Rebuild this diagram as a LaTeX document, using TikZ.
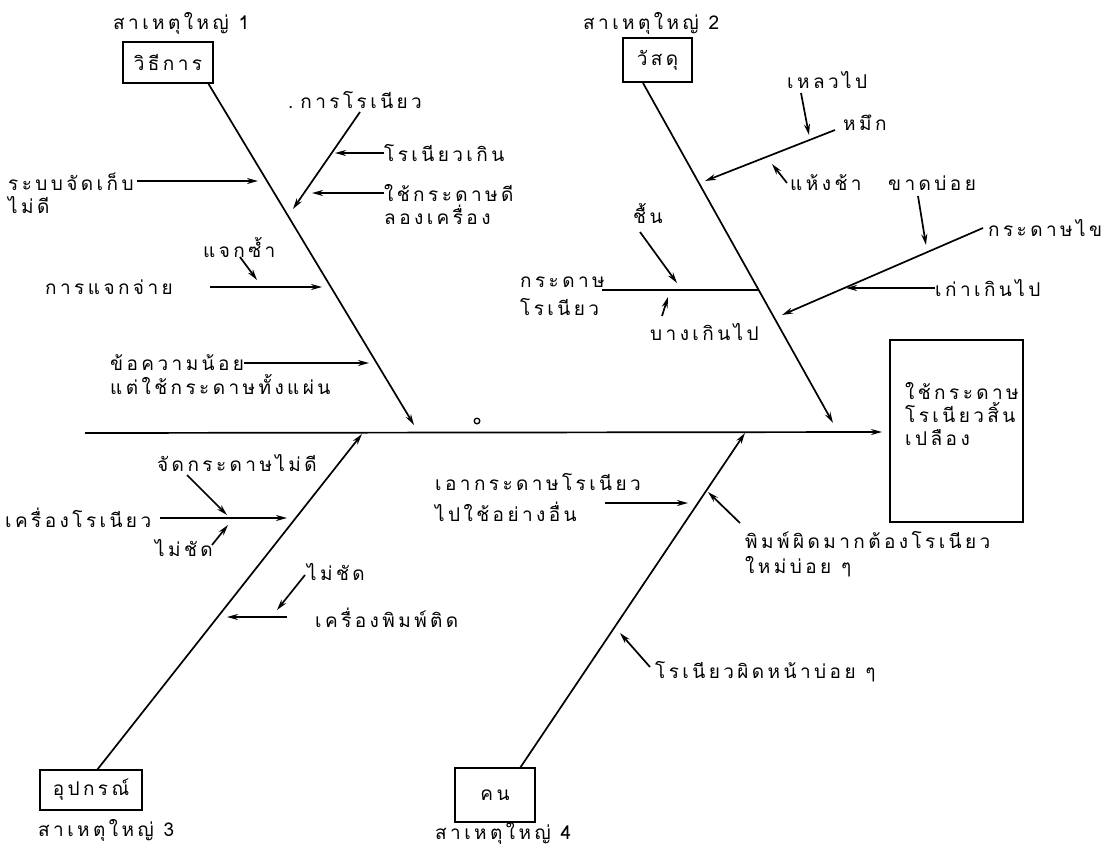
\documentclass[tikz,border=0pt]{standalone}
\usepackage{fontspec}
\newfontfamily\thai[Script=Thai,LetterSpace=18]{Loma}
\usetikzlibrary{arrows.meta}
\tikzset{
  lbl/.style={font=\thai\fontsize{19}{24}\selectfont, inner sep=0pt, anchor=west},
  bone/.style={line width=1.7pt},
  arr/.style={line width=1.7pt,-{Stealth[length=11pt,width=6pt]}},
  causebox/.style={draw,line width=2.2pt,inner sep=0pt,font=\thai\fontsize{19}{24}\selectfont},
}
\begin{document}
\begin{tikzpicture}[x=1pt,y=-1pt]
\useasboundingbox (0,0) rectangle (1104,854);
% boxes
\node[causebox,minimum width=90pt,minimum height=41pt] (box1) at (168,62.5) {วิธีการ};
\node[causebox,minimum width=69pt,minimum height=44pt] (box2) at (657.5,60) {วัสดุ};
\node[causebox,minimum width=102pt,minimum height=40pt] (box3) at (91,790) {อุปกรณ์};
\node[causebox,minimum width=80pt,minimum height=54pt] (box4) at (495,795) {คน};
\node[draw,line width=2.2pt,minimum width=133pt,minimum height=182pt,inner sep=0pt] (effect) at (956.5,431) {};
\node[lbl,anchor=north west,align=left] (efftxt) at (905,382) {ใช้กระดาษ\\[-1pt]โรเนียวสิ้น\\[-1pt]เปลือง};
% headings
\node[lbl] (h1) at (113,23) {สาเหตุใหญ่ 1};
\node[lbl] (h2) at (583,23) {สาเหตุใหญ่ 2};
\node[lbl] (h3) at (38,830) {สาเหตุใหญ่ 3};
\node[lbl] (h4) at (435,833) {สาเหตุใหญ่ 4};
% main spine
\coordinate (tail) at (85,433);
\coordinate (head) at (882,432);
\draw[arr] (tail) -- (head);
\draw[line width=1.3pt] (477,421) circle (2.8pt);
% spines
\coordinate (s1a) at (208,83);  \coordinate (s1b) at (414,425);
\coordinate (s2a) at (643,83);  \coordinate (s2b) at (833,423);
\coordinate (s3a) at (97,770);  \coordinate (s3b) at (362,434);
\coordinate (s4a) at (520,768); \coordinate (s4b) at (745,433);
\draw[arr] (s1a) -- (s1b);
\draw[arr] (s2a) -- (s2b);
\draw[arr] (s3a) -- (s3b);
\draw[arr] (s4a) -- (s4b);
% ---- cause 1
\node[lbl] (t1) at (288,100) {.\hspace{7pt}การโรเนียว};
\coordinate (a1s) at (360,112); \coordinate (a1e) at (293,209);
\draw[arr] (a1s) -- (a1e);
\node[lbl] (t2) at (384,153) {โรเนียวเกิน};
\coordinate (a2e) at (335,153);
\draw[arr] (t2.west) -- (a2e);
\node[lbl] (t3) at (384,193) {ใช้กระดาษดี};
\node[lbl] (t3b) at (384,215) {ลองเครื่อง};
\coordinate (a3e) at (312,193);
\draw[arr] (t3.west) -- (a3e);
\node[lbl] (t4) at (8,182) {ระบบจัดเก็บ};
\node[lbl] (t4b) at (8,205) {ไม่ดี};
\coordinate (a4s) at (137,181); \coordinate (a4e) at (258,181);
\draw[arr] (a4s) -- (a4e);
\node[lbl] (t5) at (203,247) {แจกซ้ำ};
\coordinate (a5s) at (240,257); \coordinate (a5e) at (257,280);
\draw[arr] (a5s) -- (a5e);
\node[lbl] (t6) at (45,287) {การแจกจ่าย};
\coordinate (a6s) at (210,287); \coordinate (a6e) at (322,287);
\draw[arr] (a6s) -- (a6e);
\node[lbl] (t7) at (110,363) {ข้อความน้อย};
\node[lbl] (t7b) at (110,384) {แต่ใช้กระดาษทั้งแผ่น};
\coordinate (a7e) at (369,363);
\draw[arr] (t7.east) -- (a7e);
% ---- cause 2
\node[lbl] (u1) at (787,80) {เหลวไป};
\node[lbl] (u2) at (843,123) {หมึก};
\coordinate (b1s) at (835,130); \coordinate (b1e) at (705,181);
\draw[arr] (b1s) -- (b1e);
\coordinate (b2s) at (801,93); \coordinate (b2e) at (809,135);
\draw[arr] (b2s) -- (b2e);
\node[lbl] (u3) at (790,183) {แห้งช้า};
\coordinate (b3s) at (787,183); \coordinate (b3e) at (772,164);
\draw[arr] (b3s) -- (b3e);
\node[lbl] (u4) at (888,183) {ขาดบ่อย};
\coordinate (b4s) at (918,196); \coordinate (b4e) at (926,245);
\draw[arr] (b4s) -- (b4e);
\node[lbl] (u5) at (988,228) {กระดาษไข};
\coordinate (b5s) at (983,228); \coordinate (b5e) at (782,315);
\draw[arr] (b5s) -- (b5e);
\node[lbl] (u6) at (935,288) {เก่าเกินไป};
\coordinate (b6e) at (846,288);
\draw[arr] (u6.west) -- (b6e);
\node[lbl] (u7) at (633,213) {ชื้น};
\coordinate (b8s) at (640,232); \coordinate (b8e) at (677,283);
\draw[arr] (b8s) -- (b8e);
\node[lbl] (u8) at (520,282) {กระดาษ};
\node[lbl] (u8b) at (520,307) {โรเนียว};
\coordinate (b7s) at (602,290); \coordinate (b7e) at (758,290);
\draw[bone] (b7s) -- (b7e);
\node[lbl] (u9) at (650,332) {บางเกินไป};
\coordinate (b9s) at (662,316); \coordinate (b9e) at (668,297);
\draw[arr] (b9s) -- (b9e);
% ---- cause 3
\node[lbl] (v1) at (157,463) {จัดกระดาษไม่ดี};
\coordinate (c1s) at (187,475); \coordinate (c1e) at (227,515);
\draw[arr] (c1s) -- (c1e);
\node[lbl] (v2) at (5,518) {เครื่องโรเนียว};
\coordinate (c2s) at (160,518); \coordinate (c2e) at (287,518);
\draw[arr] (c2s) -- (c2e);
\node[lbl] (v3) at (155,548) {ไม่ชัด};
\coordinate (c3s) at (212,545); \coordinate (c3e) at (228,525);
\draw[arr] (c3s) -- (c3e);
\node[lbl] (v4) at (307,572) {ไม่ชัด};
\coordinate (c4s) at (305,575); \coordinate (c4e) at (277,610);
\draw[arr] (c4s) -- (c4e);
\node[lbl] (v5) at (315,618) {เครื่องพิมพ์ติด};
\coordinate (c5s) at (287,617); \coordinate (c5e) at (227,617);
\draw[arr] (c5s) -- (c5e);
% ---- cause 4
\node[lbl] (w1) at (435,482) {เอากระดาษโรเนียว};
\node[lbl] (w1b) at (435,512) {ไปใช้อย่างอื่น};
\coordinate (d1s) at (605,503); \coordinate (d1e) at (688,503);
\draw[arr] (d1s) -- (d1e);
\node[lbl] (w2) at (745,540) {พิมพ์ผิดมากต้องโรเนียว};
\node[lbl] (w2b) at (745,567) {ใหม่บ่อย ๆ};
\coordinate (d2s) at (740,523); \coordinate (d2e) at (708,492);
\draw[arr] (d2s) -- (d2e);
\node[lbl] (w3) at (655,672) {โรเนียวผิดหน้าบ่อย ๆ};
\coordinate (d3s) at (650,667); \coordinate (d3e) at (620,633);
\draw[arr] (d3s) -- (d3e);
\end{tikzpicture}
\end{document}
